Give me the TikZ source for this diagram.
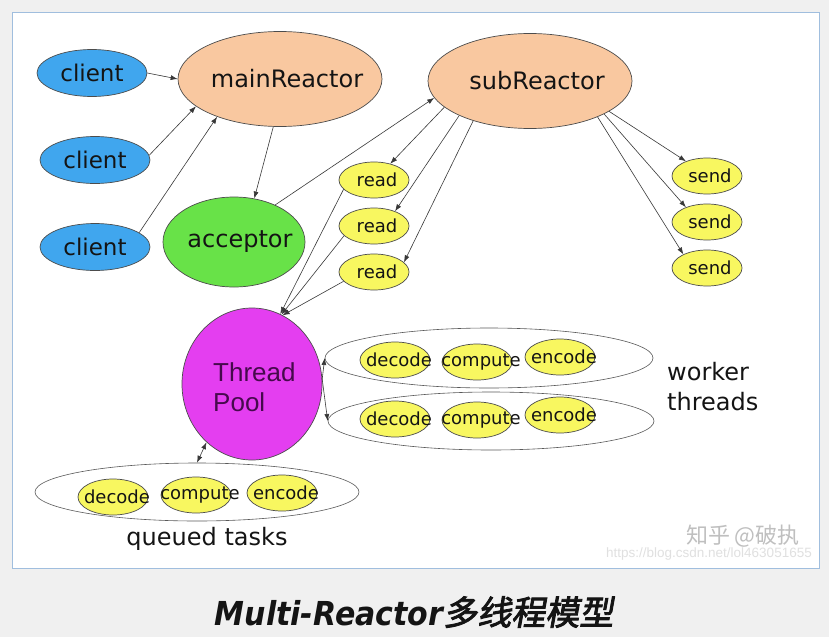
\documentclass[tikz,border=0pt]{standalone}
\usepackage{graphicx}
\usepackage{fontspec}
\setmainfont{DejaVu Sans}
\newfontfamily\poolfont{Liberation Sans}
\newfontfamily\cjk{Noto Sans CJK SC}
\newfontfamily\cjkcap{Noto Sans CJK SC}[FakeSlant=0.18,FakeBold=2.5]
\usepackage{tikz}
\usetikzlibrary{arrows.meta,shapes.geometric}

\definecolor{bggray}{RGB}{240,240,240}
\definecolor{frameblue}{RGB}{160,190,222}
\definecolor{cliblue}{RGB}{64,166,238}
\definecolor{peach}{RGB}{249,200,160}
\definecolor{accgreen}{RGB}{104,226,72}
\definecolor{taskyel}{RGB}{248,247,96}
\definecolor{poolmag}{RGB}{228,62,240}
\definecolor{poolink}{RGB}{70,10,76}

% text over a fixed-size ellipse, #1 moves it right by half
\newcommand\tx[2][0pt]{\makebox[0pt]{\hspace*{#1}#2}}

\begin{document}
\begin{tikzpicture}[x=1pt,y=-1pt,
  >={Latex[length=7pt,width=5pt]},
  every node/.style={text=black!92},
  oval/.style={ellipse,draw=black!70,line width=0.7pt,inner sep=0pt},
  client/.style={oval,fill=cliblue,minimum width=110,minimum height=47,font=\fontsize{23}{28}\selectfont},
  reactor/.style={oval,fill=peach,minimum width=204,minimum height=95,font=\fontsize{24}{29}\selectfont},
  accbox/.style={oval,fill=accgreen,minimum width=142,minimum height=90,font=\fontsize{24}{29}\selectfont},
  io/.style={oval,fill=taskyel,minimum width=70,minimum height=36,font=\fontsize{18}{22}\selectfont},
  task/.style={oval,fill=taskyel,minimum width=70,minimum height=36,font=\fontsize{18}{22}\selectfont},
  group/.style={ellipse,draw=black!65,line width=0.6pt,inner sep=0pt},
  link/.style={->,draw=black!78,line width=0.6pt}]
\useasboundingbox (0,0) rectangle (829,637);
\fill[bggray] (0,0) rectangle (829,637);
\filldraw[fill=white,draw=frameblue,line width=1pt] (12,12) rectangle (819,568);

% reactors and clients
\node[client] (cl1) at (92,73) {\tx{client}};
\node[client] (cl2) at (95,160) {\tx{client}};
\node[client] (cl3) at (95,247) {\tx{client}};
\node[reactor] (mainR) at (280,79) {\tx[14pt]{mainReactor}};
\node[reactor] (subR) at (530,81) {\tx[14pt]{subReactor}};
\node[accbox] (acc) at (234,242) {\tx[12pt]{acceptor}};
\foreach \y [count=\i] in {180,226,272}
  \node[io] (rd\i) at (374,\y) {\tx[6pt]{read}};
\foreach \y [count=\i] in {176,222,268}
  \node[io] (sd\i) at (707,\y) {\tx[6pt]{send}};

% thread pool
\node[oval,fill=poolmag,minimum width=140,minimum height=152] (pool) at (252,384) {};
\node[anchor=base west,inner sep=0pt,text=poolink,font=\poolfont\fontsize{26}{30}\selectfont]
  (poolTxt) at (213,381) {\begin{tabular}[t]{@{}l@{}}Thread\\Pool\end{tabular}};

% worker threads and queued tasks
\node[group,minimum width=328,minimum height=60] (wk1) at (489,358) {};
\node[group,minimum width=326,minimum height=58] (wk2) at (491,421) {};
\node[group,minimum width=324,minimum height=58] (queue) at (197,492) {};
\foreach \nm/\x/\y/\t in {wd1/395/360/decode,wc1/477/362/compute,we1/560/357/encode,
                          wd2/395/419/decode,wc2/477/420/compute,we2/560/415/encode,
                          qd/113/497/decode,qc/196/495/compute,qe/282/493/encode}
  \node[task] (\nm) at (\x,\y) {\tx[8pt]{\t}};
\node[anchor=base west,inner sep=0pt,font=\fontsize{24}{30}\selectfont]
  (wkLbl) at (667,380) {\begin{tabular}[t]{@{}l@{}}worker\\threads\end{tabular}};
\node[anchor=base,inner sep=0pt,font=\fontsize{24}{30}\selectfont] (qLbl) at (207,545) {queued tasks};

% connectors
\draw[link] (cl1.east) -- (mainR.west);
\draw[link] (cl2.5) -- (mainR.198);
\draw[link] (cl3.18) -- (mainR.211);
\draw[link] (mainR.262) -- (acc.65);
\draw[link] (acc.42) -- (subR.190);
\draw[link] (subR.197) -- (rd1.45);
\draw[link] (subR.206) -- (rd2.35);
\draw[link] (subR.215) -- (rd3.18);
\draw[link] (rd1.197) -- (pool.68);
\draw[link] (rd2.198) -- (pool.67);
\draw[link] (rd3.197) -- (pool.66);
\draw[link] (subR.339) -- (sd1.145);
\draw[link] (subR.336) -- (sd2.145);
\draw[link] (subR.332) -- (sd3.150);
\draw[link] (pool.4) -- (wk1.west);
\draw[link] (pool.4) -- (wk2.west);
\draw[link,<->] (pool.232) -- (queue.north);

% watermark and caption
\node[anchor=base east,inner sep=0pt,text=black!25,font=\cjk\fontsize{22}{26}\selectfont]
  (wmark) at (800,543) {知乎 @破执};
\node[anchor=base east,inner sep=0pt,text=black!12,font=\poolfont\fontsize{13.5}{16}\selectfont]
  (wurl) at (812,557) {https://blog.csdn.net/lol463051655};
\node[anchor=base,inner sep=0pt,text=black!92] (cap) at (414,625)
  {\scalebox{0.91}[1]{\fontsize{33}{40}\selectfont\bfseries\itshape Multi-Reactor}{\cjkcap\fontsize{34}{40}\selectfont 多线程模型}};
\end{tikzpicture}
\end{document}
